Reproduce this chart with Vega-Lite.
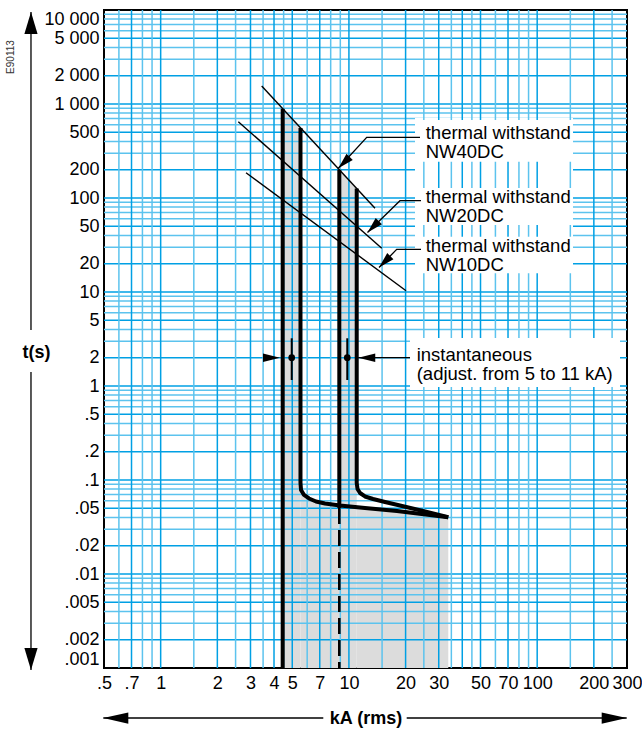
{
"$schema": "https://vega.github.io/schema/vega-lite/v6.json",
"width": 523, "height": 658,
"autosize": {"type": "none"},
"padding": {"left": 104, "top": 10, "right": 15, "bottom": 61},
"background": "white",
"config": {"view": {"stroke": "#000", "strokeWidth": 2}},
"datasets": {
"shade": [
{"piece":"A","kA":4.448,"t":891},{"piece":"A","kA":5.53,"t":554},
{"piece":"B","kA":5.53,"t":0.0929},{"piece":"B","kA":5.566,"t":0.0783},{"piece":"B","kA":5.774,"t":0.0693},{"piece":"B","kA":6.137,"t":0.0636},{"piece":"B","kA":6.686,"t":0.059},{"piece":"B","kA":7.463,"t":0.0562},{"piece":"B","kA":8.89,"t":0.0537},
{"piece":"C","kA":8.89,"t":200},{"piece":"C","kA":11.0,"t":126},
{"piece":"D","kA":11.0,"t":0.0515},{"piece":"D","kA":12.17,"t":0.0504},{"piece":"D","kA":18.0,"t":0.0468},{"piece":"D","kA":33.72,"t":0.0401}
],
"gridx": [
{"kA":0.6,"kind":"minor"},{"kA":0.7,"kind":"major"},{"kA":0.8,"kind":"minor"},{"kA":0.9,"kind":"minor"},{"kA":1,"kind":"major"},{"kA":1.5,"kind":"minor"},{"kA":2,"kind":"major"},{"kA":2.5,"kind":"minor"},{"kA":3,"kind":"major"},{"kA":3.5,"kind":"minor"},{"kA":4,"kind":"major"},{"kA":4.5,"kind":"minor"},{"kA":5,"kind":"major"},{"kA":6,"kind":"minor"},{"kA":7,"kind":"major"},{"kA":8,"kind":"minor"},{"kA":9,"kind":"minor"},{"kA":10,"kind":"major"},{"kA":15,"kind":"minor"},{"kA":20,"kind":"major"},{"kA":25,"kind":"minor"},{"kA":30,"kind":"major"},{"kA":35,"kind":"minor"},{"kA":40,"kind":"major"},{"kA":45,"kind":"minor"},{"kA":50,"kind":"major"},{"kA":60,"kind":"minor"},{"kA":70,"kind":"major"},{"kA":80,"kind":"minor"},{"kA":90,"kind":"minor"},{"kA":100,"kind":"major"},{"kA":150,"kind":"minor"},{"kA":200,"kind":"major"},{"kA":250,"kind":"minor"}
],
"gridy": [
{"t":0.002,"kind":"major"},{"t":0.003,"kind":"minor"},{"t":0.004,"kind":"minor"},{"t":0.005,"kind":"major"},{"t":0.006,"kind":"minor"},{"t":0.007,"kind":"minor"},{"t":0.008,"kind":"minor"},{"t":0.009,"kind":"minor"},
{"t":0.01,"kind":"major"},{"t":0.02,"kind":"major"},{"t":0.03,"kind":"minor"},{"t":0.04,"kind":"minor"},{"t":0.05,"kind":"major"},{"t":0.06,"kind":"minor"},{"t":0.07,"kind":"minor"},{"t":0.08,"kind":"minor"},{"t":0.09,"kind":"minor"},
{"t":0.1,"kind":"major"},{"t":0.2,"kind":"major"},{"t":0.3,"kind":"minor"},{"t":0.4,"kind":"minor"},{"t":0.5,"kind":"major"},{"t":0.6,"kind":"minor"},{"t":0.7,"kind":"minor"},{"t":0.8,"kind":"minor"},{"t":0.9,"kind":"minor"},
{"t":1,"kind":"major"},{"t":2,"kind":"major"},{"t":3,"kind":"minor"},{"t":4,"kind":"minor"},{"t":5,"kind":"major"},{"t":6,"kind":"minor"},{"t":7,"kind":"minor"},{"t":8,"kind":"minor"},{"t":9,"kind":"minor"},
{"t":10,"kind":"major"},{"t":20,"kind":"major"},{"t":30,"kind":"minor"},{"t":40,"kind":"minor"},{"t":50,"kind":"major"},{"t":60,"kind":"minor"},{"t":70,"kind":"minor"},{"t":80,"kind":"minor"},{"t":90,"kind":"minor"},
{"t":100,"kind":"major"},{"t":200,"kind":"major"},{"t":300,"kind":"minor"},{"t":400,"kind":"minor"},{"t":500,"kind":"major"},{"t":600,"kind":"minor"},{"t":700,"kind":"minor"},{"t":800,"kind":"minor"},{"t":900,"kind":"minor"},
{"t":1000,"kind":"major"},{"t":2000,"kind":"major"},{"t":3000,"kind":"minor"},{"t":4000,"kind":"minor"},{"t":5000,"kind":"major"},{"t":6000,"kind":"minor"},{"t":7000,"kind":"minor"},{"t":8000,"kind":"minor"},{"t":9000,"kind":"minor"}
],
"hmask": [
{"kA":22.44,"kA2":155,"t":709.8,"t2":15.17},
{"kA":21.11,"kA2":275.4,"t":3.488,"t2":0.906}
],
"vmask": [
{"kA":22.44,"kA2":155,"t":675.7,"t2":243.3},
{"kA":22.44,"kA2":155,"t":127.8,"t2":51.6},
{"kA":22.44,"kA2":155,"t":38.76,"t2":15.81},
{"kA":21.11,"kA2":275.4,"t":3.24,"t2":0.976}
],
"thermal": [
{"line":"NW40","kA":3.441,"t":1554},{"line":"NW40","kA":13.76,"t":77.7},
{"line":"NW20","kA":2.585,"t":648},{"line":"NW20","kA":14.94,"t":29.17},
{"line":"NW10","kA":2.84,"t":185.8},{"line":"NW10","kA":20.11,"t":10.32}
],
"curves": [
{"curve":"c1","ord":1,"kA":4.448,"t":891},{"curve":"c1","ord":2,"kA":4.448,"t":0.001},
{"curve":"c2","ord":1,"kA":5.53,"t":554},{"curve":"c2","ord":2,"kA":5.53,"t":0.0929},{"curve":"c2","ord":3,"kA":5.566,"t":0.0783},{"curve":"c2","ord":4,"kA":5.774,"t":0.0693},{"curve":"c2","ord":5,"kA":6.137,"t":0.0636},{"curve":"c2","ord":6,"kA":6.686,"t":0.059},{"curve":"c2","ord":7,"kA":7.463,"t":0.0562},{"curve":"c2","ord":8,"kA":8.966,"t":0.0535},{"curve":"c2","ord":9,"kA":12.17,"t":0.0504},{"curve":"c2","ord":10,"kA":18.0,"t":0.0468},{"curve":"c2","ord":11,"kA":33.72,"t":0.0401},
{"curve":"c3","ord":1,"kA":8.89,"t":200},{"curve":"c3","ord":2,"kA":8.89,"t":0.0503},
{"curve":"c4","ord":1,"kA":11.0,"t":126},{"curve":"c4","ord":2,"kA":11.0,"t":0.0929},{"curve":"c4","ord":3,"kA":11.11,"t":0.0802},{"curve":"c4","ord":4,"kA":11.45,"t":0.0727},{"curve":"c4","ord":5,"kA":12.17,"t":0.0668},{"curve":"c4","ord":6,"kA":13.43,"t":0.0628},{"curve":"c4","ord":7,"kA":15.55,"t":0.0583},{"curve":"c4","ord":8,"kA":18.67,"t":0.0535},{"curve":"c4","ord":9,"kA":24.75,"t":0.0468},{"curve":"c4","ord":10,"kA":33.72,"t":0.0401}
],
"dashed": [{"kA":8.89,"t":0.0503},{"kA":8.89,"t":0.001}],
"inst": [{"kA":4.967,"t":2,"thi":3.218,"tlo":1.158},{"kA":9.8,"t":2,"thi":3.218,"tlo":1.158}],
"leaders": [
{"leader":"L40","ord":1,"kA":23.86,"t":442.3},{"leader":"L40","ord":2,"kA":12.43,"t":442.3},{"leader":"L40","ord":3,"kA":8.783,"t":207.0},
{"leader":"L20","ord":1,"kA":24.15,"t":93.6},{"leader":"L20","ord":2,"kA":18.67,"t":93.6},{"leader":"L20","ord":3,"kA":12.55,"t":42.95},
{"leader":"L10","ord":1,"kA":24.15,"t":28.46},{"leader":"L10","ord":2,"kA":17.94,"t":28.46},{"leader":"L10","ord":3,"kA":14.45,"t":18.23},
{"leader":"Li","ord":1,"kA":11.21,"t":2},{"leader":"Li","ord":2,"kA":21.11,"t":2},
{"leader":"y1","ord":1,"kA":0.2047,"t":9522},{"leader":"y1","ord":2,"kA":0.2047,"t":3.94},
{"leader":"y2","ord":1,"kA":0.2047,"t":1.409},{"leader":"y2","ord":2,"kA":0.2047,"t":0.000952},
{"leader":"x1","ord":1,"kA":0.4957,"t":0.0002938},{"leader":"x1","ord":2,"kA":7.309,"t":0.0002938},
{"leader":"x2","ord":1,"kA":20.27,"t":0.0002938},{"leader":"x2","ord":2,"kA":298.9,"t":0.0002938}
],
"heads": [
{"dir":"right","kA":4.303,"t":2},
{"dir":"left","kA":11.21,"t":2},
{"dir":"downleft","kA":8.783,"t":207.0},
{"dir":"downleft","kA":12.55,"t":42.95},
{"dir":"downleft","kA":14.45,"t":18.23},
{"dir":"up","kA":0.2047,"t":9522},
{"dir":"down","kA":0.2047,"t":0.000952},
{"dir":"axisleft","kA":0.4957,"t":0.0002938},
{"dir":"axisright","kA":298.9,"t":0.0002938}
],
"labels": [
{"label":"thermal withstand\nNW40DC","kA":25.58,"t":495.2},
{"label":"thermal withstand\nNW20DC","kA":25.58,"t":101.7},
{"label":"thermal withstand\nNW10DC","kA":25.58,"t":30.86},
{"label":"instantaneous\n(adjust. from 5 to 11 kA)","kA":22.91,"t":2.137}
],
"stamp": [{"label":"E90113","kA":0.1603,"t":3162}]
},
"layer": [
{"data":{"name":"shade"},"mark":{"type":"area","color":"#dcdcdc"},
 "encoding":{
  "x": {"field":"kA","type":"quantitative",
   "scale":{"type":"log","domain":[0.5,300],"nice":false},
   "axis":{"title":"kA (rms)","values":[0.5,0.7,1,2,3,4,5,7,10,20,30,50,70,100,200,300],
    "labelExpr":"datum.value < 1 ? slice(toString(datum.value), 1) : toString(datum.value)",
    "grid":false,"ticks":false,"tickSize":0,"domain":false,"labelFlush":false,"labelOverlap":false,
    "labelPadding":6,"labelFontSize":18,"labelFont":"Liberation Sans","labelColor":"#000",
    "titleFontSize":18,"titleFont":"Liberation Sans","titleFontWeight":"bold","titleColor":"#000",
    "titleY":50,"titleBaseline":"middle"}},
  "y": {"field":"t","type":"quantitative","stack":null,
   "scale":{"type":"log","domain":[0.001,10000],"nice":false},
   "axis":{"title":"t(s)","values":[10000,5000,2000,1000,500,200,100,50,20,10,5,2,1,0.5,0.2,0.1,0.05,0.02,0.01,0.005,0.002,0.001],
    "labelExpr":"datum.value >= 1000 ? replace(format(datum.value, ','), ',', ' ') : (datum.value < 1 ? slice(toString(datum.value), 1) : toString(datum.value))",
    "grid":false,"ticks":false,"tickSize":0,"domain":false,"labelFlush":true,"labelOverlap":false,
    "labelPadding":5,"labelFontSize":18,"labelFont":"Liberation Sans","labelColor":"#000",
    "titleFontSize":18,"titleFont":"Liberation Sans","titleFontWeight":"bold","titleColor":"#000",
    "titleAngle":0,"titleX":-68,"titleY":342,"titleAlign":"center","titleBaseline":"middle"}},
  "y2":{"datum":0.001},
  "detail":{"field":"piece","type":"nominal"}}},
{"data":{"name":"gridy"},"mark":{"type":"rule","strokeWidth":1.5},
 "encoding":{
  "y":{"field":"t","type":"quantitative","scale":{"type":"log"}},
  "color":{"field":"kind","type":"nominal","scale":{"domain":["major","minor"],"range":["#00a0e4","#5cc3ee"]},"legend":null}}},
{"data":{"name":"hmask"},"mark":{"type":"rect","color":"white"},
 "encoding":{"x":{"field":"kA","type":"quantitative","scale":{"type":"log"}},"x2":{"field":"kA2"},
  "y":{"field":"t","type":"quantitative","scale":{"type":"log"}},"y2":{"field":"t2"}}},
{"data":{"name":"gridx"},"mark":{"type":"rule","strokeWidth":1.5},
 "encoding":{
  "x":{"field":"kA","type":"quantitative","scale":{"type":"log"}},
  "color":{"field":"kind","type":"nominal","scale":{"domain":["major","minor"],"range":["#00a0e4","#5cc3ee"]},"legend":null}}},
{"data":{"name":"vmask"},"mark":{"type":"rect","color":"white"},
 "encoding":{"x":{"field":"kA","type":"quantitative","scale":{"type":"log"}},"x2":{"field":"kA2"},
  "y":{"field":"t","type":"quantitative","scale":{"type":"log"}},"y2":{"field":"t2"}}},
{"data":{"name":"thermal"},"mark":{"type":"line","color":"#000","strokeWidth":1.4},
 "encoding":{"x":{"field":"kA","type":"quantitative","scale":{"type":"log"}},
  "y":{"field":"t","type":"quantitative","scale":{"type":"log"}},
  "detail":{"field":"line","type":"nominal"}}},
{"data":{"name":"curves"},"mark":{"type":"line","color":"#000","strokeWidth":4,"strokeCap":"butt","strokeJoin":"round"},
 "encoding":{"x":{"field":"kA","type":"quantitative","scale":{"type":"log"}},
  "y":{"field":"t","type":"quantitative","scale":{"type":"log"}},
  "detail":{"field":"curve","type":"nominal"},"order":{"field":"ord","type":"quantitative"}}},
{"data":{"name":"dashed"},"mark":{"type":"line","color":"#000","strokeWidth":2.6,"strokeDash":[16,6]},
 "encoding":{"x":{"field":"kA","type":"quantitative","scale":{"type":"log"}},
  "y":{"field":"t","type":"quantitative","scale":{"type":"log"}},
  "order":{"field":"t","type":"quantitative","sort":"descending"}}},
{"data":{"name":"inst"},"mark":{"type":"rule","color":"#000","strokeWidth":2},
 "encoding":{"x":{"field":"kA","type":"quantitative","scale":{"type":"log"}},
  "y":{"field":"thi","type":"quantitative","scale":{"type":"log"}},"y2":{"field":"tlo"}}},
{"data":{"name":"inst"},"mark":{"type":"point","filled":true,"color":"#000","size":45,"opacity":1},
 "encoding":{"x":{"field":"kA","type":"quantitative","scale":{"type":"log"}},
  "y":{"field":"t","type":"quantitative","scale":{"type":"log"}}}},
{"data":{"name":"leaders"},"mark":{"type":"line","color":"#000","strokeWidth":1.3},
 "encoding":{"x":{"field":"kA","type":"quantitative","scale":{"type":"log"}},
  "y":{"field":"t","type":"quantitative","scale":{"type":"log"}},
  "detail":{"field":"leader","type":"nominal"},"order":{"field":"ord","type":"quantitative"}}},
{"data":{"name":"heads"},"transform":[{"filter":"datum.dir == 'right'"}],
 "mark":{"type":"point","shape":"M0,0L-2,-0.5L-2,0.5Z","filled":true,"color":"#000","opacity":1,"size":289,"angle":0},
 "encoding":{"x":{"field":"kA","type":"quantitative","scale":{"type":"log"}},"y":{"field":"t","type":"quantitative","scale":{"type":"log"}}}},
{"data":{"name":"heads"},"transform":[{"filter":"datum.dir == 'left'"}],
 "mark":{"type":"point","shape":"M0,0L-2,-0.5L-2,0.5Z","filled":true,"color":"#000","opacity":1,"size":289,"angle":180},
 "encoding":{"x":{"field":"kA","type":"quantitative","scale":{"type":"log"}},"y":{"field":"t","type":"quantitative","scale":{"type":"log"}}}},
{"data":{"name":"heads"},"transform":[{"filter":"datum.dir == 'downleft'"}],
 "mark":{"type":"point","shape":"M0,0L-2,-0.55L-2,0.55Z","filled":true,"color":"#000","opacity":1,"size":256,"angle":135},
 "encoding":{"x":{"field":"kA","type":"quantitative","scale":{"type":"log"}},"y":{"field":"t","type":"quantitative","scale":{"type":"log"}}}},
{"data":{"name":"heads"},"transform":[{"filter":"datum.dir == 'up'"}],
 "mark":{"type":"point","shape":"M0,0L-2,-0.6L-2,0.6Z","filled":true,"color":"#000","opacity":1,"size":484,"angle":270},
 "encoding":{"x":{"field":"kA","type":"quantitative","scale":{"type":"log"}},"y":{"field":"t","type":"quantitative","scale":{"type":"log"}}}},
{"data":{"name":"heads"},"transform":[{"filter":"datum.dir == 'down'"}],
 "mark":{"type":"point","shape":"M0,0L-2,-0.6L-2,0.6Z","filled":true,"color":"#000","opacity":1,"size":484,"angle":90},
 "encoding":{"x":{"field":"kA","type":"quantitative","scale":{"type":"log"}},"y":{"field":"t","type":"quantitative","scale":{"type":"log"}}}},
{"data":{"name":"heads"},"transform":[{"filter":"datum.dir == 'axisleft'"}],
 "mark":{"type":"point","shape":"M0,0L-2,-0.45L-2,0.45Z","filled":true,"color":"#000","opacity":1,"size":625,"angle":180},
 "encoding":{"x":{"field":"kA","type":"quantitative","scale":{"type":"log"}},"y":{"field":"t","type":"quantitative","scale":{"type":"log"}}}},
{"data":{"name":"heads"},"transform":[{"filter":"datum.dir == 'axisright'"}],
 "mark":{"type":"point","shape":"M0,0L-2,-0.45L-2,0.45Z","filled":true,"color":"#000","opacity":1,"size":625,"angle":0},
 "encoding":{"x":{"field":"kA","type":"quantitative","scale":{"type":"log"}},"y":{"field":"t","type":"quantitative","scale":{"type":"log"}}}},
{"data":{"name":"labels"},"mark":{"type":"text","align":"left","baseline":"middle","font":"Liberation Sans","fontSize":18.5,"lineHeight":19,"lineBreak":"\n","color":"#000"},
 "encoding":{"x":{"field":"kA","type":"quantitative","scale":{"type":"log"}},"y":{"field":"t","type":"quantitative","scale":{"type":"log"}},
  "text":{"field":"label","type":"nominal"}}},
{"data":{"name":"stamp"},"mark":{"type":"text","align":"center","baseline":"middle","font":"Liberation Sans","fontSize":10,"angle":270,"color":"#333"},
 "encoding":{"x":{"field":"kA","type":"quantitative","scale":{"type":"log"}},"y":{"field":"t","type":"quantitative","scale":{"type":"log"}},
  "text":{"field":"label","type":"nominal"}}}
]
}
